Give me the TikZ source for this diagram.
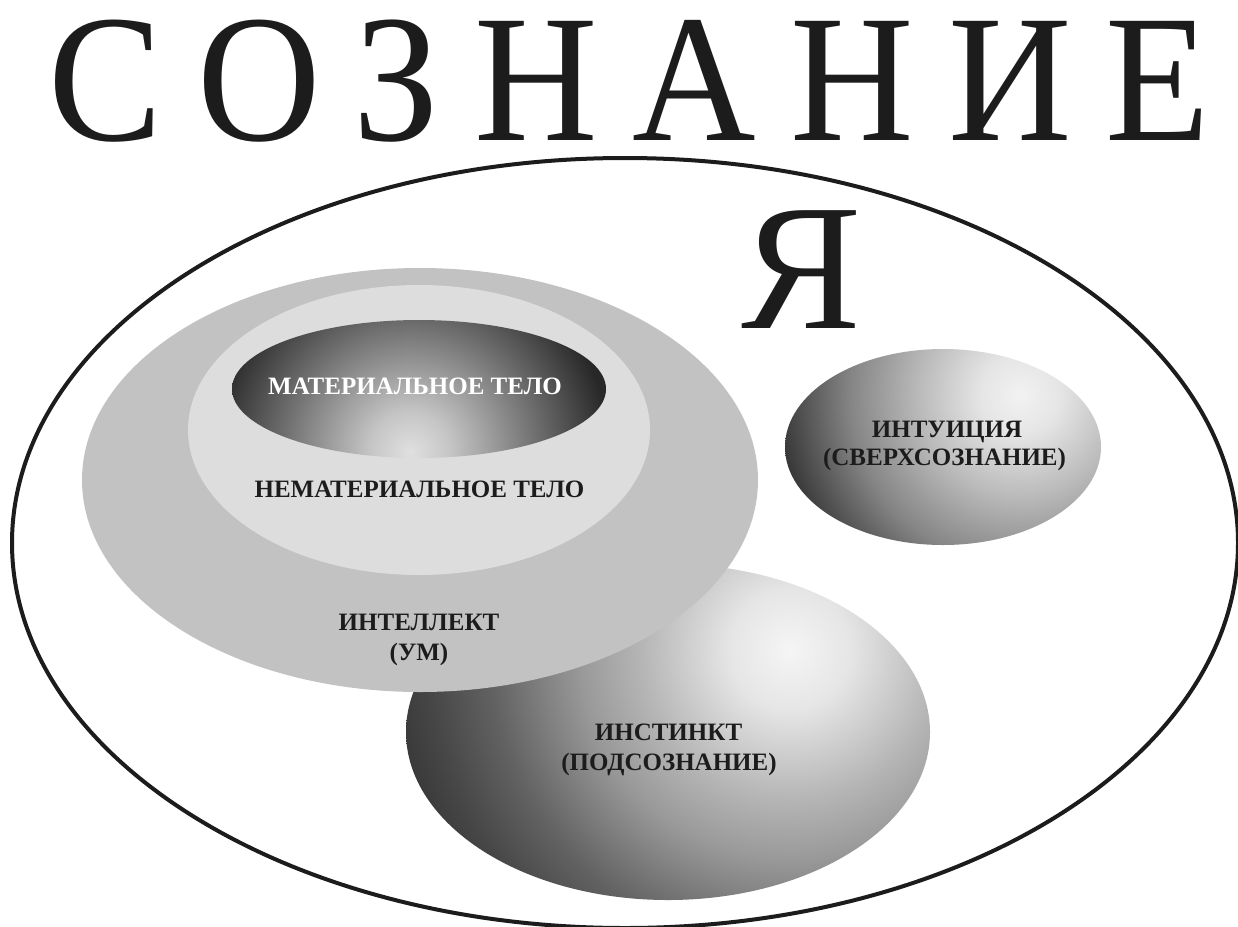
\documentclass[tikz,border=0pt]{standalone}
\usepackage{fontspec}
\setmainfont{Liberation Serif}
\usepackage{graphicx}
\definecolor{ink}{HTML}{1C1C1C}
\definecolor{intellgray}{HTML}{C2C2C2}
\definecolor{nematgray}{HTML}{DDDDDD}
\pgfdeclareradialshading{instsh}{\pgfpointorigin}{rgb(0bp)=(.961,.961,.961); rgb(3.5bp)=(.90,.90,.90); rgb(8.7bp)=(.71,.71,.71); rgb(12.2bp)=(.60,.60,.60); rgb(17.4bp)=(.385,.385,.385); rgb(20.9bp)=(.28,.28,.28); rgb(25bp)=(.18,.18,.18); rgb(50bp)=(.18,.18,.18)}
\pgfdeclareradialshading{intsh}{\pgfpointorigin}{rgb(0bp)=(.949,.949,.949); rgb(4bp)=(.898,.898,.898); rgb(10bp)=(.733,.733,.733); rgb(17bp)=(.522,.522,.522); rgb(25bp)=(.188,.188,.188); rgb(50bp)=(.188,.188,.188)}
\pgfdeclareradialshading{matsh}{\pgfpointorigin}{rgb(0bp)=(.878,.878,.878); rgb(4.2bp)=(.773,.773,.773); rgb(13.5bp)=(.424,.424,.424); rgb(20.8bp)=(.157,.157,.157); rgb(25bp)=(.157,.157,.157); rgb(50bp)=(.157,.157,.157)}
\begin{document}
\begin{tikzpicture}[x=1pt,y=-1pt,
  lbl/.style={font=\bfseries\fontsize{25}{31}\selectfont, text=ink, anchor=base, inner sep=0pt},
  titlel/.style={font=\fontsize{182}{182}\selectfont, text=ink, anchor=base, inner sep=0pt},
  outline/.style={line width=4pt, draw=ink}]
\path[use as bounding box, fill=white] (0,0) rectangle (1238,926);
% instinct
\begin{scope}
  \clip (668,732) ellipse (262 and 168);
  \shade[shading=instsh] (790,650) circle (430);
\end{scope}
% intellect
\fill[intellgray] (420,480) ellipse (338 and 212);
% non-material body
\fill[nematgray] (419,430) ellipse (231 and 145);
% material body
\begin{scope}
  \clip (419,389) ellipse (187 and 69);
  \shade[shading=matsh] (410,452) circle (240);
\end{scope}
% intuition
\begin{scope}
  \clip (943,447) ellipse (158 and 98);
  \shade[shading=intsh] (1020,395) circle (250);
\end{scope}
% outer ellipse
\draw[outline] (625,543) ellipse (613 and 385);
% title
\node[titlel] (t1) at (105.5,140) {\scalebox{0.94}[1]{С}};
\node[titlel] (t2) at (259.5,140) {\scalebox{0.94}[1]{О}};
\node[titlel] (t3) at (396,140) {\scalebox{0.94}[1]{З}};
\node[titlel] (t4) at (536,140) {\scalebox{0.94}[1]{Н}};
\node[titlel] (t5) at (694.5,140) {\scalebox{0.94}[1]{А}};
\node[titlel] (t6) at (852,140) {\scalebox{0.94}[1]{Н}};
\node[titlel] (t7) at (1010,140) {\scalebox{0.94}[1]{И}};
\node[titlel] (t8) at (1157.5,140) {\scalebox{0.94}[1]{Е}};
\node[titlel, font=\fontsize{180}{180}\selectfont] (ya) at (802,328) {Я};
% labels
\node[lbl, text=white] (mat) at (415,394) {МАТЕРИАЛЬНОЕ ТЕЛО};
\node[lbl] (nemat) at (419.5,497) {НЕМАТЕРИАЛЬНОЕ ТЕЛО};
\node[lbl] (intel1) at (419,630) {ИНТЕЛЛЕКТ};
\node[lbl] (intel2) at (419,660) {(УМ)};
\node[lbl] (inst1) at (668.5,740) {ИНСТИНКТ};
\node[lbl] (inst2) at (669,770) {(ПОДСОЗНАНИЕ)};
\node[lbl] (intu1) at (947,437) {ИНТУИЦИЯ};
\node[lbl] (intu2) at (944.5,465) {(СВЕРХСОЗНАНИЕ)};
\end{tikzpicture}
\end{document}
